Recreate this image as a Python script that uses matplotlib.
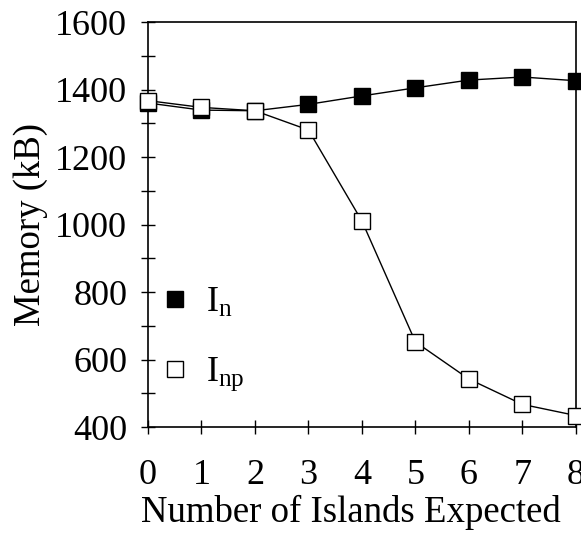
import numpy as np
import matplotlib
matplotlib.use("Agg")
import matplotlib.pyplot as plt
from matplotlib.ticker import MultipleLocator
from matplotlib.lines import Line2D

plt.rcParams['font.family'] = ['Liberation Serif', 'DejaVu Serif']
plt.rcParams['mathtext.fontset'] = 'custom'
plt.rcParams['mathtext.rm'] = 'Liberation Serif'
plt.rcParams['mathtext.it'] = 'Liberation Serif'

islands = [0, 1, 2, 3, 4, 5, 6, 7, 8]
mem_n = [1360, 1339, 1337, 1356, 1381, 1405, 1428, 1437, 1426]
mem_np = [1367, 1347, 1337, 1280, 1010, 652, 542, 467, 434]

fig = plt.figure(figsize=(5.81, 5.38), dpi=100)
ax = fig.add_axes([0.2547, 0.2063, 0.7366, 0.7528])

ax.plot(islands, mem_n, color='black', lw=1, marker='s', ms=12,
        mfc='black', mec='black', mew=1, clip_on=False, zorder=3)
ax.plot(islands, mem_np, color='black', lw=1, marker='s', ms=12,
        mfc='white', mec='black', mew=1, clip_on=False, zorder=4)

ax.set_xlim(0, 8)
ax.set_ylim(400, 1600)
ax.xaxis.set_major_locator(MultipleLocator(1))
ax.yaxis.set_major_locator(MultipleLocator(200))
ax.yaxis.set_minor_locator(MultipleLocator(100))
ax.tick_params(axis='both', which='both', direction='inout', length=10,
               width=1, labelsize=26, top=False, right=False)
ax.tick_params(axis='x', pad=18)
ax.tick_params(axis='y', pad=10)
for s in ax.spines.values():
    s.set_linewidth(1.2)

ax.set_xlabel('Number of Islands Expected', fontsize=26.5)
ax.xaxis.set_label_coords(0.474, -0.168)
ax.set_ylabel('Memory (kB)', fontsize=26.5, labelpad=5)

handles = [
    Line2D([], [], ls='none', marker='s', ms=11.5, mfc='black', mec='black', mew=1),
    Line2D([], [], ls='none', marker='s', ms=11.5, mfc='white', mec='black', mew=1),
]
ax.legend(handles, [r'$\mathrm{I_n}$', r'$\mathrm{I_{np}}$'],
          loc='upper left', bbox_to_anchor=(0.03, 0.347), frameon=False,
          fontsize=26, handlelength=0.8, handletextpad=0.45,
          labelspacing=1.0, borderpad=0, borderaxespad=0)

fig.savefig('out.png', dpi=100)
